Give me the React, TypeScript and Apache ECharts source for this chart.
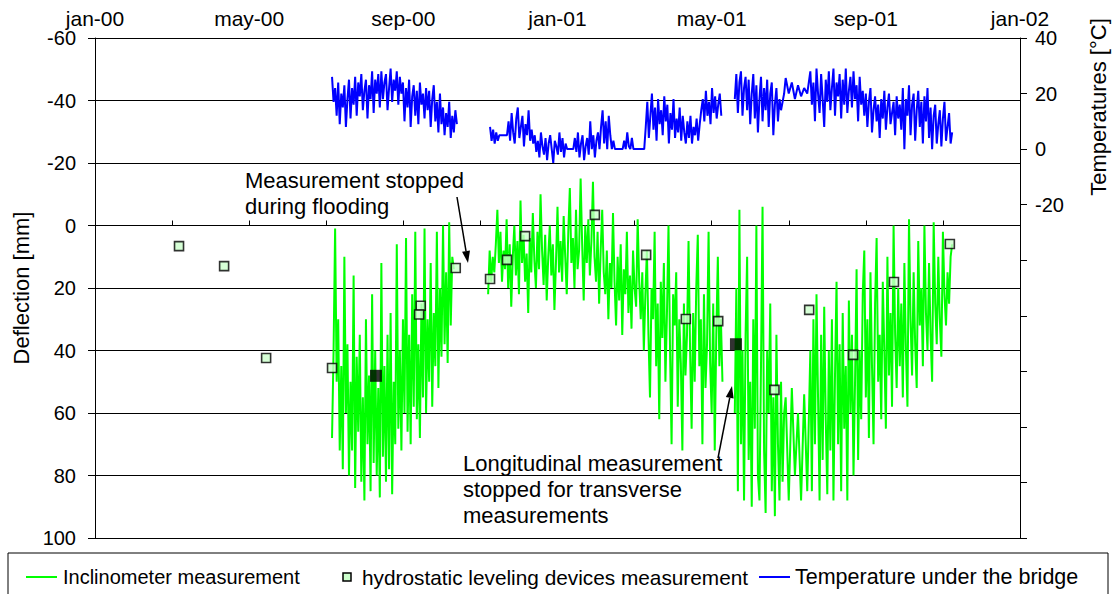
import React, { useEffect, useRef } from 'react';
import * as echarts from 'echarts';

// ---- axes ----
const xTickLabels = ['jan-00', 'may-00', 'sep-00', 'jan-01', 'may-01', 'sep-01', 'jan-02'];
const deflMin = -60;
const deflMax = 100;
const tempMin = -140;
const tempMax = 40;
const tempLabelFloor = -20;

// ---- inclinometer (deflection, mm), x in months since jan-00 ----
const inclStep = 0.04;
const incl1Start = 6.15;
const incl1 = [68, 40, 1, 50, 30, 72,
  45, 78, 10, 60, 38, 80, 50, 72, 16, 84, 42, 66, 35, 82, 55, 88, 30, 70, 48, 85, 22, 76, 40, 80,
  52, 87, 12, 74, 45, 82, 35, 78, 28, 86, 50, 70, 6, 65, 40,
  72, 30, 60, 4, 66, 35, 70, 22, 58, 2, 62, 38, 68, 25, 55, 1, 60, 30, 50, 12, 58, 28, 45, 2, 52, 20,
  42, 0, 38, 15, 44, -1, 32, 10, 14];
const incl2Start = 10.2;
const incl2 = [22, 8, 18, 10, 15, 6,
  -5, 12, 2, 18, 8, 14, -2, 20, 6, 26, 10, 0, 16, 5, 22, -8, 12, 3, 18, 9, 28, 4, 15, -4, 11, 20, 2, 14, -10, 8, 19, 3, 24, 10, 0, 16, 6, 27, 12, -6, 15, 5,
  18, -3, 10, 22, 2, -12, 12, 4, 20, -5, 14, 8, -15, 6, 24, 0, 12, -2, 16, 5, -14, 10, 18, 2, 25, 8,
  -5, 15, 22, 8, 30, 12, 20, -4, 18, 32, 10, 24, 6, 35, 14, 22, 2, 28, 16, 33, 8, 20, 26, -2, 18, 30,
  15, 40, 22, 8, 35, 55, 20, 30, 2, 45, 25, 62, 18, 36, 12, 50, 28, 0, 40, 70, 22, 32, 15, 58, 30, 44,
  72, 25, 48, 35, 5, 40, 65, 28, 50, 20, 3, 45, 30, 70, 22, 52, 38, 2, 44, 60, 25, 72, 35, 10, 45, 30, 50];
const incl3aStart = 16.6;
const incl3a = [60, 20, 85, -5, 70, 40, 88, 35, 10, 75, 50, 90, 30, 65, 0, 80, 88, 45, -6, 72, 92, 40, 60, 25, 85, 55, 93, 35, 70, 88, 50, 82, 60];
const incl3bStart = 17.92;
const incl3bStep = 0.08;
const incl3b = [55, 88, 52, 80, 60, 88, 54, 85];
const incl3cStart = 18.56;
const incl3c = [40, 85, 30, 70, 22, 55, 88, 35, 75, 26, 62, 86, 40, 72, 30, 88, 48, 18, 70, 38, 85, 28, 65, 45, 88, 24, 60, 35, 80, 50, 14, 75, 40,
  62, 22, 8, 55, 30, 68, 15, 45, 70, 25, 4, 50, 35, 62, 18, 40, 65, 10, 48, 28, 58, 0, 35, 52, 20, 45,
  25, 55, 12, 40, 58, -2, 30, 48, 15, 38, 52, 5, 32, 20, 45, 0, 28, 40, 12, 35, 50, -1, 25, 38, 10, 30, 42, 2, 22, 32, 15, 25, 10, 6];

// ---- temperature under the bridge (°C) ----
const tempStep = 0.04;
const tempAStart = 6.15;
const tempA = [26, 17, 22, 12, 24, 9, 20, 15, 23, 8, 18, 25, 11,
  22, 16, 26, 12, 24, 19, 27, 14, 21, 25, 11, 23, 18, 28, 13, 25, 20, 27, 15,
  28, 18, 24, 27, 14, 22, 29, 17, 25, 21, 28, 16, 26,
  20, 24, 10, 22, 15, 25, 8, 19, 23, 12, 21, 9, 24, 16, 20, 11, 22,
  14, 21, 8, 18, 23, 10, 17, 6, 20,
  9, 15, 5, 13, 8, 17, 4, 12, 6, 14, 9];
const tempBStart = 10.25;
const tempB = [8, 3, 7, 2, 6, 3, 5,
  5, 5, 5, 5, 5,
  10, 3, 13, 6, 2, 11, 15, 4, 8, 12, 1, 9, 5, 14, 3, 7, 2,
  5, -1, 3, -3, 6, 1, -2, 4, -4, 2, 5, 0, -5, 3, 1, -2, 6, -1, 4, -3, 2, 0,
  0, 0, 0, 0,
  4, -1, 6, -3, 2, 5, -4, 1, 4, -2, 10, 0, 5, -3, 3, 6, 0,
  8, 14, 2, 10, 0, 12, 5, 0, 3,
  0, 0, 0, 0, 0, 0,
  3, 0, 6, 1, 0, 4, 0,
  0, 0, 0, 0, 0, 0, 0,
  8, 17, 4, 12, 20, 7, 15, 3, 18, 9, 14, 5, 19, 10, 16, 2, 13, 7, 18, 4, 11, 6, 15,
  3, 12, 6, 2, 10, 4, 12, 2, 8, 5, 11, 3, 9,
  14, 18, 10, 21, 12, 17, 9, 22, 13, 19, 11, 16, 20, 12];
const tempC1Start = 16.6;
const tempC1 = [18, 27, 13, 24, 28, 12, 22, 26, 14, 25, 9, 20, 27, 11, 23, 6, 18, 26, 10, 22, 14, 25, 8, 20, 24, 5, 16, 22, 10, 18, 14, 17, 20];
const tempC2Start = 17.92;
const tempC2Step = 0.08;
const tempC2 = [25.6, 20, 24, 18, 23, 19, 22, 20];
const tempC3Start = 18.56;
const tempC3 = [28, 16, 24, 10, 29, 20, 13, 27, 18, 8, 25, 17,
  28, 14, 22, 29, 12, 24, 19, 27, 11, 25, 16, 29, 13, 21, 26, 15, 28, 18, 23, 10, 26, 16, 21,
  12, 20, 8, 17, 22, 6, 14, 19, 10, 16, 4, 18, 11, 21, 7, 15, 20, 9, 13, 17, 5, 19, 11, 16,
  7, 22, 0, 18, 12, 23, 5, 16, 20, 3, 14, 21, 8, 17, 2, 19, 10, 22, 4, 15,
  0, 12, 16, 2, 9, 14, 1, 11, 17, 3, 8, 13, 2, 6];

// ---- hydrostatic leveling (deflection, mm) ----
const hydroMonths = [2.18, 3.35, 4.44, 6.15, 8.45, 8.41, 9.36, 10.25, 10.69, 11.16, 12.97, 14.3, 15.33, 16.17, 17.63, 18.53, 19.67, 20.73, 22.18];
const hydroValues = [6.6, 13.0, 42.4, 45.6, 25.7, 28.5, 13.6, 17.1, 11.0, 3.4, -3.4, 9.4, 29.9, 30.6, 52.6, 27.0, 41.4, 18.1, 5.9];

// ---- black markers ----
const blackMonths = [7.29, 16.63];
const blackValues = [48.1, 38.0];

const FONT = '"Liberation Sans", Arial, sans-serif';
const GREEN = '#00ff00';
const BLUE = '#0000ff';

function seg(start: number, step: number, vals: number[]) {
  return vals.map((v, i) => [+(start + i * step).toFixed(4), v]);
}

function arrowHead(tipX: number, tipY: number, fromX: number, fromY: number) {
  const dx = tipX - fromX;
  const dy = tipY - fromY;
  const len = Math.sqrt(dx * dx + dy * dy);
  const ux = dx / len;
  const uy = dy / len;
  const bx = tipX - 12 * ux;
  const by = tipY - 12 * uy;
  const px = -uy * 4;
  const py = ux * 4;
  return {
    line: { type: 'line', shape: { x1: fromX, y1: fromY, x2: bx, y2: by }, style: { stroke: '#000', lineWidth: 1.5 } },
    head: { type: 'polygon', shape: { points: [[tipX, tipY], [bx + px, by + py], [bx - px, by - py]] }, style: { fill: '#000' } },
  };
}

export default function App() {
  const ref = useRef<HTMLDivElement>(null);
  useEffect(() => {
    if (!ref.current) return;
    const chart = echarts.init(ref.current, null, { renderer: 'svg' });
    const incl3 = [
      ...seg(incl3aStart, inclStep, incl3a),
      ...seg(incl3bStart, incl3bStep, incl3b),
      ...seg(incl3cStart, inclStep, incl3c),
    ];
    const inclSegs = [seg(incl1Start, inclStep, incl1), seg(incl2Start, inclStep, incl2), incl3];
    const tempSegs = [
      seg(tempAStart, tempStep, tempA),
      seg(tempBStart, tempStep, tempB),
      [...seg(tempC1Start, tempStep, tempC1), ...seg(tempC2Start, tempC2Step, tempC2), ...seg(tempC3Start, tempStep, tempC3)],
    ];
    const a1 = arrowHead(468, 263, 457, 197);
    const a2 = arrowHead(732, 386, 718, 458);
    const textStyle = { fontFamily: FONT, fontSize: 20, fill: '#000' };
    const bigText = { ...textStyle, fontSize: 22 };

    const lineBase = { type: 'line', showSymbol: false, symbol: 'none', animation: false, silent: true };
    const series: any[] = [];
    inclSegs.forEach((d) => {
      series.push({ ...lineBase, name: 'Inclinometer measurement', xAxisIndex: 0, yAxisIndex: 0, data: d, lineStyle: { color: GREEN, width: 2 }, z: 2 });
    });
    tempSegs.forEach((d) => {
      series.push({ ...lineBase, name: 'Temperature under the bridge', xAxisIndex: 0, yAxisIndex: 1, data: d, lineStyle: { color: BLUE, width: 2 }, z: 2 });
    });
    series.push({
      type: 'scatter', name: 'hydrostatic leveling devices measurement', yAxisIndex: 0,
      data: hydroMonths.map((m, i) => [m, hydroValues[i]]),
      symbol: 'rect', symbolSize: 9,
      itemStyle: { color: '#ccffcc', borderColor: '#000', borderWidth: 1.6 }, z: 4,
    });
    series.push({
      type: 'scatter', name: 'marker', yAxisIndex: 0,
      data: blackMonths.map((m, i) => [m, blackValues[i]]),
      symbol: 'rect', symbolSize: 12,
      itemStyle: { color: '#000' }, z: 5,
    });

    chart.setOption({
      animation: false,
      backgroundColor: '#fff',
      textStyle: { fontFamily: FONT },
      grid: { left: 95, right: 95, top: 38, bottom: 56, containLabel: false },
      xAxis: {
        type: 'value', position: 'top', min: 0, max: 24, interval: 2,
        axisLine: { show: true, lineStyle: { color: '#000', width: 1 } },
        axisTick: { show: true, inside: false, length: 5, lineStyle: { color: '#000' } },
        axisLabel: {
          show: true, margin: 9, color: '#000', fontSize: 21, fontFamily: FONT,
          formatter: (v: number) => (Math.round(v) % 4 === 0 ? xTickLabels[Math.round(v) / 4] : ''),
        },
        splitLine: { show: false },
      },
      yAxis: [
        {
          type: 'value', inverse: true, min: deflMin, max: deflMax, interval: 20, position: 'left',
          axisLine: { show: true, lineStyle: { color: '#000', width: 1 } },
          axisTick: { show: true, inside: false, length: 7, lineStyle: { color: '#000' } },
          axisLabel: { margin: 19, color: '#000', fontSize: 20, fontFamily: FONT },
          splitLine: { show: true, lineStyle: { color: '#000', width: 1 } },
        },
        {
          type: 'value', min: tempMin, max: tempMax, interval: 20, position: 'right',
          axisLine: { show: true, lineStyle: { color: '#000', width: 1 } },
          axisTick: { show: true, inside: false, length: 7, lineStyle: { color: '#000' } },
          axisLabel: {
            margin: 15, color: '#000', fontSize: 20, fontFamily: FONT,
            formatter: (v: number) => (v >= tempLabelFloor ? String(v) : ''),
          },
          splitLine: { show: false },
        },
      ],
      series,
      graphic: [
        { type: 'text', x: 21, y: 288, rotation: Math.PI / 2, style: { ...bigText, text: 'Deflection [mm]', align: 'center', verticalAlign: 'middle' } },
        { type: 'text', x: 1098, y: 107, rotation: Math.PI / 2, style: { ...bigText, text: 'Temperatures [°C]', align: 'center', verticalAlign: 'middle' } },
        { type: 'text', x: 245, y: 167, style: { ...bigText, text: 'Measurement stopped\nduring flooding', lineHeight: 26, verticalAlign: 'top' }, z: 10 },
        { type: 'text', x: 463, y: 450, style: { ...bigText, text: 'Longitudinal measurement\nstopped for transverse\nmeasurements', lineHeight: 26, verticalAlign: 'top' }, z: 10 },
        { ...a1.line, z: 10 }, { ...a1.head, z: 10 },
        { ...a2.line, z: 10 }, { ...a2.head, z: 10 },
        { type: 'rect', shape: { x: 8, y: 553, width: 1100, height: 50 }, style: { fill: '#fff', stroke: '#000', lineWidth: 1 }, z: 10 },
        { type: 'line', shape: { x1: 26, y1: 577, x2: 57, y2: 577 }, style: { stroke: GREEN, lineWidth: 2 }, z: 11 },
        { type: 'text', x: 63, y: 577, style: { ...textStyle, text: 'Inclinometer measurement', verticalAlign: 'middle' }, z: 11 },
        { type: 'rect', shape: { x: 343, y: 573, width: 8, height: 8 }, style: { fill: '#ccffcc', stroke: '#000', lineWidth: 1.5 }, z: 11 },
        { type: 'text', x: 362, y: 577, style: { ...textStyle, fontSize: 20.8, text: 'hydrostatic leveling devices measurement', verticalAlign: 'middle' }, z: 11 },
        { type: 'line', shape: { x1: 759, y1: 577, x2: 790, y2: 577 }, style: { stroke: BLUE, lineWidth: 2 }, z: 11 },
        { type: 'text', x: 795, y: 577, style: { ...textStyle, fontSize: 21.5, text: 'Temperature under the bridge', verticalAlign: 'middle' }, z: 11 },
      ],
    });
    return () => chart.dispose();
  }, []);
  return <div ref={ref} style={{ position: 'absolute', left: 0, top: 0, width: 1115, height: 594 }} />;
}
